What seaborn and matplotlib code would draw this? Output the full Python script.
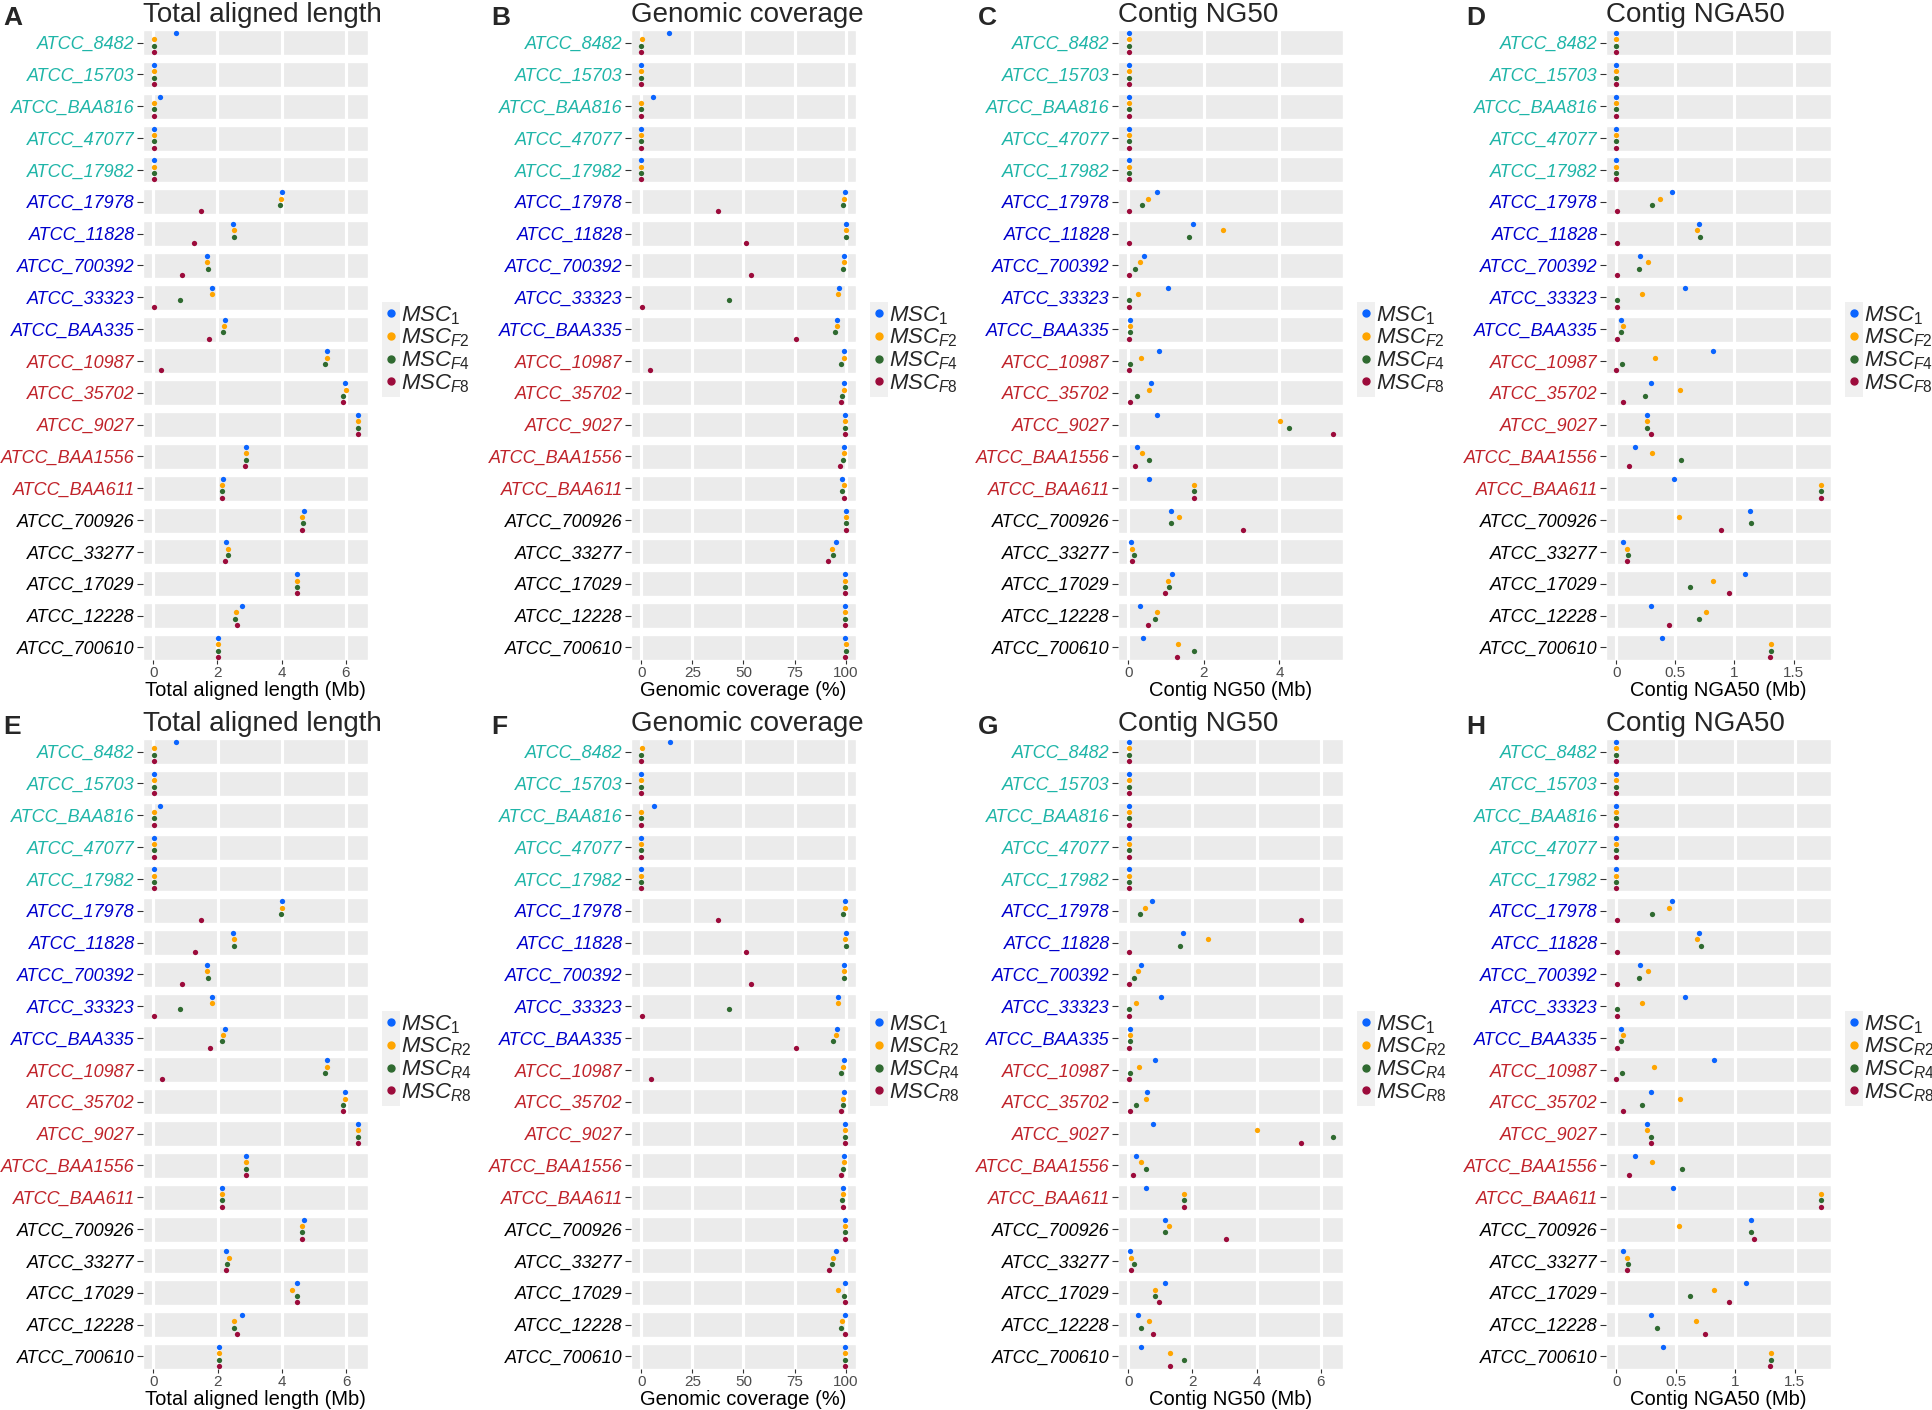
import pandas as pd
import seaborn as sns
import matplotlib.pyplot as plt
from matplotlib.lines import Line2D
from matplotlib.patches import Rectangle

sns.set_theme(style='white')
plt.rcParams['font.family'] = ['Liberation Sans', 'DejaVu Sans']
plt.rcParams['mathtext.fontset'] = 'custom'
plt.rcParams['mathtext.it'] = 'Liberation Sans:italic'
plt.rcParams['mathtext.rm'] = 'Liberation Sans'

# ---- data -------------------------------------------------------------
strains = ['ATCC_8482', 'ATCC_15703', 'ATCC_BAA816', 'ATCC_47077', 'ATCC_17982',
           'ATCC_17978', 'ATCC_11828', 'ATCC_700392', 'ATCC_33323', 'ATCC_BAA335',
           'ATCC_10987', 'ATCC_35702', 'ATCC_9027', 'ATCC_BAA1556', 'ATCC_BAA611',
           'ATCC_700926', 'ATCC_33277', 'ATCC_17029', 'ATCC_12228', 'ATCC_700610']
strain_groups = ['teal'] * 5 + ['blue'] * 5 + ['red'] * 5 + ['black'] * 5

methods_F = ['MSC1', 'MSCF2', 'MSCF4', 'MSCF8']
methods_R = ['MSC1', 'MSCR2', 'MSCR4', 'MSCR8']
legend_F = [r'$MSC_{1}$', r'$MSC_{F2}$', r'$MSC_{F4}$', r'$MSC_{F8}$']
legend_R = [r'$MSC_{1}$', r'$MSC_{R2}$', r'$MSC_{R4}$', r'$MSC_{R8}$']

# one row per strain: [MSC1, x2, x4, x8]
aligned_F = [
    [0.72, 0.02, 0.01, 0.01], [0.01, 0.01, 0.01, 0.01], [0.21, 0.01, 0.01, 0.01],
    [0.01, 0.01, 0.01, 0.01], [0.01, 0.01, 0.01, 0.01],
    [4.01, 3.99, 3.96, 1.50], [2.49, 2.50, 2.52, 1.28], [1.66, 1.68, 1.70, 0.90],
    [1.84, 1.83, 0.82, 0.01], [2.23, 2.20, 2.18, 1.73],
    [5.41, 5.42, 5.34, 0.25], [5.96, 6.00, 5.91, 5.90], [6.37, 6.37, 6.37, 6.37],
    [2.90, 2.90, 2.89, 2.85], [2.16, 2.14, 2.13, 2.15],
    [4.69, 4.64, 4.65, 4.64], [2.28, 2.34, 2.32, 2.24], [4.47, 4.47, 4.47, 4.47],
    [2.75, 2.58, 2.56, 2.60], [2.03, 2.03, 2.03, 2.03]]
aligned_R = [
    [0.72, 0.01, 0.01, 0.01], [0.01, 0.01, 0.01, 0.01], [0.22, 0.01, 0.01, 0.01],
    [0.01, 0.01, 0.01, 0.01], [0.01, 0.01, 0.01, 0.01],
    [4.01, 4.00, 3.97, 1.49], [2.49, 2.50, 2.51, 1.30], [1.66, 1.67, 1.71, 0.90],
    [1.84, 1.83, 0.82, 0.02], [2.24, 2.18, 2.14, 1.75],
    [5.40, 5.40, 5.34, 0.26], [5.95, 5.95, 5.90, 5.89], [6.36, 6.36, 6.36, 6.36],
    [2.90, 2.90, 2.89, 2.90], [2.14, 2.14, 2.13, 2.14],
    [4.69, 4.64, 4.64, 4.64], [2.27, 2.36, 2.30, 2.26], [4.47, 4.30, 4.47, 4.47],
    [2.75, 2.51, 2.51, 2.59], [2.03, 2.03, 2.03, 2.03]]

coverage_F = [
    [13.8, 0.3, 0.1, 0.1], [0.1, 0.1, 0.1, 0.1], [5.9, 0.1, 0.1, 0.1],
    [0.1, 0.1, 0.1, 0.1], [0.1, 0.1, 0.1, 0.1],
    [99.7, 99.3, 98.5, 37.4], [100.0, 100.0, 100.0, 51.3], [99.3, 99.3, 98.7, 53.8],
    [96.6, 96.4, 42.8, 0.3], [95.9, 95.6, 94.8, 75.7],
    [99.3, 99.2, 97.9, 4.3], [99.3, 99.2, 98.4, 97.9], [99.8, 99.8, 99.8, 99.8],
    [98.9, 98.9, 98.5, 97.4], [98.4, 98.9, 98.2, 98.9],
    [99.9, 99.9, 99.9, 99.9], [95.1, 93.3, 93.9, 91.1], [99.5, 99.5, 99.5, 99.5],
    [99.7, 99.7, 99.7, 99.7], [99.8, 99.9, 99.9, 99.8]]
coverage_R = [
    [13.9, 0.3, 0.1, 0.1], [0.1, 0.1, 0.1, 0.1], [6.2, 0.1, 0.1, 0.1],
    [0.1, 0.1, 0.1, 0.1], [0.1, 0.1, 0.1, 0.1],
    [99.7, 99.4, 98.5, 37.3], [100.0, 99.8, 100.0, 51.2], [99.3, 99.3, 99.0, 53.7],
    [96.3, 96.3, 42.9, 0.3], [95.7, 95.0, 93.8, 75.6],
    [99.0, 98.8, 97.8, 4.6], [99.0, 98.8, 98.5, 97.8], [99.7, 99.7, 99.7, 99.7],
    [98.9, 98.9, 98.5, 97.8], [98.6, 98.6, 98.3, 98.6],
    [99.7, 99.7, 99.7, 99.7], [95.0, 93.8, 93.2, 92.0], [99.4, 96.3, 99.0, 99.5],
    [99.4, 98.1, 97.8, 99.7], [99.5, 99.5, 99.5, 99.5]]

ng50_F = [
    [0.01, 0.01, 0.01, 0.01], [0.01, 0.01, 0.01, 0.01], [0.01, 0.01, 0.01, 0.01],
    [0.01, 0.01, 0.01, 0.01], [0.01, 0.01, 0.01, 0.01],
    [0.76, 0.53, 0.37, 0.01], [1.72, 2.50, 1.60, 0.01], [0.42, 0.31, 0.19, 0.01],
    [1.04, 0.26, 0.01, 0.01], [0.06, 0.06, 0.04, 0.01],
    [0.82, 0.33, 0.05, 0.01], [0.59, 0.55, 0.24, 0.06], [0.77, 4.01, 4.25, 5.41],
    [0.23, 0.36, 0.55, 0.17], [0.55, 1.73, 1.73, 1.73],
    [1.13, 1.35, 1.13, 3.04], [0.07, 0.11, 0.15, 0.11], [1.17, 1.04, 1.09, 0.96],
    [0.31, 0.76, 0.70, 0.51], [0.39, 1.31, 1.73, 1.30]]
ng50_R = [
    [0.01, 0.01, 0.01, 0.01], [0.01, 0.01, 0.01, 0.01], [0.01, 0.01, 0.01, 0.01],
    [0.01, 0.01, 0.01, 0.01], [0.01, 0.01, 0.01, 0.01],
    [0.75, 0.53, 0.36, 5.39], [1.72, 2.48, 1.60, 0.01], [0.41, 0.29, 0.18, 0.01],
    [1.02, 0.25, 0.01, 0.01], [0.05, 0.05, 0.04, 0.01],
    [0.82, 0.32, 0.04, 0.01], [0.59, 0.55, 0.24, 0.06], [0.77, 4.00, 6.37, 5.39],
    [0.23, 0.40, 0.55, 0.16], [0.56, 1.73, 1.73, 1.73],
    [1.13, 1.28, 1.13, 3.03], [0.07, 0.10, 0.17, 0.08], [1.16, 0.82, 0.82, 0.95],
    [0.31, 0.66, 0.40, 0.77], [0.39, 1.31, 1.73, 1.29]]

nga50_F = [
    [0.0, 0.0, 0.0, 0.0], [0.0, 0.0, 0.0, 0.0], [0.0, 0.0, 0.0, 0.0],
    [0.0, 0.0, 0.0, 0.0], [0.0, 0.0, 0.0, 0.0],
    [0.47, 0.37, 0.30, 0.005], [0.70, 0.68, 0.71, 0.01], [0.20, 0.27, 0.19, 0.005],
    [0.58, 0.22, 0.005, 0.005], [0.04, 0.06, 0.04, 0.01],
    [0.82, 0.33, 0.05, 0.0], [0.29, 0.54, 0.24, 0.06], [0.26, 0.26, 0.26, 0.29],
    [0.16, 0.30, 0.55, 0.11], [0.49, 1.73, 1.73, 1.73],
    [1.13, 0.53, 1.14, 0.89], [0.06, 0.09, 0.10, 0.09], [1.09, 0.82, 0.62, 0.95],
    [0.29, 0.76, 0.70, 0.45], [0.39, 1.31, 1.31, 1.30]]
nga50_R = [
    [0.0, 0.0, 0.0, 0.0], [0.0, 0.0, 0.0, 0.0], [0.0, 0.0, 0.0, 0.0],
    [0.0, 0.0, 0.0, 0.0], [0.0, 0.0, 0.0, 0.0],
    [0.47, 0.44, 0.30, 0.005], [0.70, 0.68, 0.71, 0.01], [0.20, 0.27, 0.19, 0.005],
    [0.58, 0.22, 0.005, 0.005], [0.04, 0.06, 0.04, 0.01],
    [0.82, 0.32, 0.05, 0.0], [0.29, 0.54, 0.22, 0.06], [0.26, 0.26, 0.29, 0.29],
    [0.16, 0.30, 0.55, 0.11], [0.48, 1.72, 1.72, 1.72],
    [1.13, 0.53, 1.13, 1.16], [0.06, 0.09, 0.10, 0.09], [1.09, 0.82, 0.62, 0.95],
    [0.29, 0.67, 0.34, 0.75], [0.39, 1.30, 1.30, 1.29]]

len_ticks, len_ticklabels = [0, 2, 4, 6], ['0', '2', '4', '6']
cov_ticks, cov_ticklabels = [0, 25, 50, 75, 100], ['0', '25', '50', '75', '100']
ng_ticks, ng_ticklabels = [0, 2, 4], ['0', '2', '4']
nga_ticks, nga_ticklabels = [0, 0.5, 1, 1.5], ['0', '0.5', '1', '1.5']

# ---- style ------------------------------------------------------------
point_colors = ['#0a64ff', '#ffa500', '#2f6a30', '#9c0b3b']
group_colors = {'teal': '#1fb5a8', 'blue': '#0000cc', 'red': '#c0232a', 'black': '#000000'}
W, H = 1933, 1410
PANEL_W = 225
LEFTS = [143, 631, 1118, 1606]
ROWS = [(30, 660), (739, 1369)]

fig = plt.figure(figsize=(W / 100, H / 100), dpi=100)
legends = []


def draw_panel(letter, title, xlabel, values, methods, leg_labels, ticks, ticklabels, col, row):
    top, bottom = ROWS[row]
    left = LEFTS[col]
    ax = fig.add_axes([left / W, 1 - bottom / H, PANEL_W / W, (bottom - top) / H])

    df = pd.DataFrame(values, columns=methods)
    df['strain'] = strains
    df = df.melt(id_vars='strain', var_name='method', value_name='value')

    lo = min(0, df['value'].min())
    hi = df['value'].max()
    pad = 0.05 * (hi - lo)

    sns.stripplot(data=df, x='value', y='strain', hue='method', order=strains,
                  hue_order=methods, palette=point_colors, dodge=True, jitter=False,
                  orient='h', size=3.8, linewidth=0, legend=False, ax=ax, zorder=3)

    # grey strip per strain (facet backgrounds) + white major grid
    ax.barh(range(len(strains)), width=hi - lo + 2 * pad, left=lo - pad, height=0.79,
            color='#ebebeb', zorder=0)
    for t in ticks:
        ax.axvline(t, color='white', lw=2.3, zorder=1)

    ax.set_xlim(lo - pad, hi + pad)
    ax.set_ylim(len(strains) - 1 + 0.395, -0.395)
    for s in ax.spines.values():
        s.set_visible(False)

    ax.set_xticks(ticks, ticklabels)
    ax.tick_params(axis='x', length=3, width=0.8, color='#333333', pad=1.5,
                   labelsize=11, labelcolor='#4d4d4d', bottom=True)
    ax.tick_params(axis='y', length=4, width=0.8, color='#333333', pad=2,
                   labelsize=13, left=True)
    for lbl, g in zip(ax.get_yticklabels(), strain_groups):
        lbl.set_color(group_colors[g])
        lbl.set_style('italic')

    ax.set_xlabel(xlabel, fontsize=14.5, labelpad=0.5, color='black')
    ax.set_ylabel('')
    ax.set_title(title, loc='left', fontsize=20, pad=6)
    fig.text((left - 140) / W, 1 - (top - 12) / H, letter, fontsize=19,
             fontweight='bold', ha='left', va='center')

    handles = [Line2D([], [], marker='o', ls='', color=c, markersize=5) for c in point_colors]
    leg = ax.legend(handles, leg_labels, loc='center left',
                    bbox_to_anchor=(1 + 14 / PANEL_W, 0.493), frameon=False,
                    fontsize=16, handlelength=0.6, handletextpad=0.15,
                    labelspacing=0.0, borderpad=0.1, borderaxespad=0)
    legends.append(leg)


panels = [
    ('A', 'Total aligned length', 'Total aligned length (Mb)', aligned_F, methods_F, legend_F, len_ticks, len_ticklabels, 0, 0),
    ('B', 'Genomic coverage', 'Genomic coverage (%)', coverage_F, methods_F, legend_F, cov_ticks, cov_ticklabels, 1, 0),
    ('C', 'Contig NG50', 'Contig NG50 (Mb)', ng50_F, methods_F, legend_F, ng_ticks, ng_ticklabels, 2, 0),
    ('D', 'Contig NGA50', 'Contig NGA50 (Mb)', nga50_F, methods_F, legend_F, nga_ticks, nga_ticklabels, 3, 0),
    ('E', 'Total aligned length', 'Total aligned length (Mb)', aligned_R, methods_R, legend_R, len_ticks, len_ticklabels, 0, 1),
    ('F', 'Genomic coverage', 'Genomic coverage (%)', coverage_R, methods_R, legend_R, cov_ticks, cov_ticklabels, 1, 1),
    ('G', 'Contig NG50', 'Contig NG50 (Mb)', ng50_R, methods_R, legend_R, [0, 2, 4, 6], ['0', '2', '4', '6'], 2, 1),
    ('H', 'Contig NGA50', 'Contig NGA50 (Mb)', nga50_R, methods_R, legend_R, nga_ticks, nga_ticklabels, 3, 1),
]
for p in panels:
    draw_panel(*p)

# grey key column behind legend markers, like ggplot legend keys
fig.canvas.draw()
rend = fig.canvas.get_renderer()
inv = fig.transFigure.inverted()
for leg in legends:
    bb = leg.get_window_extent(rend)
    tx = min(t.get_window_extent(rend).x0 for t in leg.get_texts())
    x0, y0 = inv.transform((bb.x0, bb.y0))
    x1, y1 = inv.transform((tx - 1, bb.y1))
    fig.add_artist(Rectangle((x0, y0), x1 - x0, y1 - y0, transform=fig.transFigure,
                             facecolor='#f0f0f0', edgecolor='none', zorder=-1))

fig.savefig('out.png', dpi=100)
